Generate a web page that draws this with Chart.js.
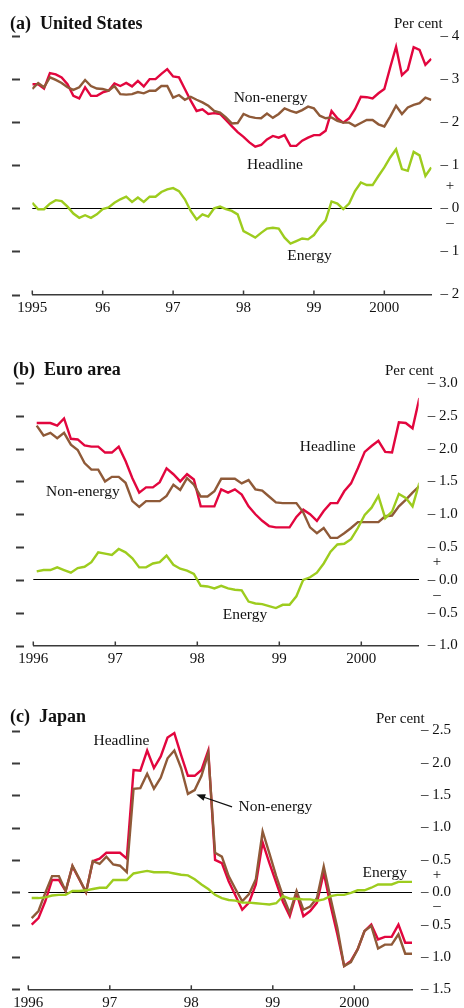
<!DOCTYPE html>
<html>
<head>
<meta charset="utf-8">
<script src="https://cdn.jsdelivr.net/npm/chart.js@4.4.1/dist/chart.umd.min.js"></script>
<style>
  html, body { margin: 0; padding: 0; background: #fff; }
  canvas { position: absolute; left: 0; }
</style>
</head>
<body>
<canvas id="chartA" width="464" height="336" style="top:0px"></canvas>
<canvas id="chartB" width="464" height="336" style="top:336px"></canvas>
<canvas id="chartC" width="464" height="336" style="top:672px"></canvas>
<script>
// ---- data (monthly, per cent) ----
const usStartYear = 1995;
const usHeadline = [2.88,2.88,2.78,3.14,3.11,3.04,2.88,2.61,2.55,2.81,
  2.61,2.61,2.69,2.73,2.90,2.84,2.91,2.83,2.96,2.83,
  3.00,3.00,3.12,3.23,3.06,3.04,2.77,2.50,2.26,2.30,
  2.19,2.21,2.19,2.05,1.91,1.77,1.66,1.53,1.43,1.47,
  1.60,1.68,1.64,1.70,1.45,1.45,1.57,1.64,1.70,1.70,
  1.80,2.26,2.09,1.99,2.09,2.30,2.59,2.58,2.55,2.67,
  2.77,3.27,3.75,3.09,3.22,3.74,3.68,3.33,3.47];
const usNonEnergy = [2.77,2.91,2.81,3.04,2.98,2.91,2.81,2.75,2.81,2.98,
  2.84,2.78,2.77,2.73,2.84,2.65,2.64,2.65,2.70,2.67,
  2.73,2.73,2.84,2.84,2.57,2.63,2.52,2.59,2.52,2.46,
  2.38,2.26,2.22,2.11,1.97,1.98,2.19,2.13,2.10,2.09,
  2.20,2.10,2.19,2.32,2.26,2.22,2.28,2.36,2.32,2.15,
  2.09,2.11,2.03,1.99,1.99,1.91,1.98,2.05,2.05,1.95,
  1.90,2.13,2.38,2.19,2.34,2.40,2.44,2.57,2.52];
const usEnergy = [0.13,-0.02,-0.02,0.11,0.19,0.17,0.04,-0.12,-0.22,-0.16,
  -0.22,-0.14,-0.02,0.02,0.13,0.21,0.27,0.15,0.25,0.15,
  0.27,0.27,0.38,0.44,0.47,0.40,0.21,-0.06,-0.26,-0.14,
  -0.19,0.00,0.04,-0.02,-0.06,-0.14,-0.53,-0.60,-0.68,-0.57,
  -0.47,-0.45,-0.47,-0.68,-0.82,-0.76,-0.70,-0.72,-0.62,-0.43,
  -0.28,0.16,0.11,-0.02,0.11,0.40,0.60,0.54,0.54,0.75,
  0.95,1.18,1.37,0.91,0.87,1.31,1.23,0.75,0.95];

const euroStartYear = 1996;
const euroHeadline = [2.39,2.39,2.39,2.35,2.46,2.15,2.14,2.05,2.03,2.03,
  1.94,1.94,2.03,1.81,1.55,1.33,1.41,1.41,1.49,1.70,
  1.61,1.50,1.61,1.53,1.12,1.12,1.12,1.38,1.33,1.38,
  1.30,1.12,1.00,0.90,0.82,0.80,0.80,0.80,0.96,1.07,
  1.00,0.90,1.05,1.17,1.17,1.35,1.47,1.70,1.95,2.04,
  2.12,1.95,1.94,2.40,2.39,2.31,2.77];
const euroNonEnergy = [2.35,2.20,2.24,2.16,2.24,2.06,1.98,1.78,1.68,1.68,
  1.50,1.57,1.57,1.48,1.20,1.11,1.20,1.20,1.20,1.28,
  1.45,1.37,1.55,1.45,1.27,1.27,1.35,1.54,1.54,1.54,
  1.47,1.52,1.38,1.36,1.27,1.18,1.17,1.17,1.17,1.03,
  0.80,0.71,0.79,0.64,0.64,0.71,0.79,0.88,0.88,0.88,
  0.88,0.97,0.98,1.12,1.22,1.33,1.43];
const euroEnergy = [0.13,0.15,0.15,0.19,0.15,0.11,0.18,0.20,0.27,0.42,
  0.40,0.38,0.47,0.42,0.33,0.19,0.19,0.25,0.27,0.37,
  0.23,0.17,0.14,0.09,-0.09,-0.10,-0.13,-0.09,-0.13,-0.15,
  -0.16,-0.33,-0.36,-0.37,-0.40,-0.43,-0.38,-0.38,-0.25,0.00,
  0.04,0.11,0.25,0.43,0.54,0.55,0.62,0.79,0.99,1.10,
  1.28,0.94,1.04,1.31,1.25,1.12,1.48];

const japanStartYear = 1996;
const japanHeadline = [-0.50,-0.40,-0.14,0.19,0.19,0.02,0.40,0.20,0.00,0.48,
  0.52,0.61,0.61,0.61,0.52,1.89,1.88,2.19,1.92,2.10,
  2.39,2.46,2.12,1.80,1.80,1.89,2.19,0.50,0.45,0.17,
  -0.05,-0.27,-0.16,0.12,0.77,0.45,0.15,-0.15,-0.37,-0.01,
  -0.37,-0.29,-0.16,0.30,-0.20,-0.65,-1.14,-1.06,-0.88,-0.60,
  -0.50,-0.73,-0.69,-0.69,-0.50,-0.78,-0.78];
const japanNonEnergy = [-0.40,-0.29,-0.01,0.25,0.25,0.02,0.41,0.21,0.00,0.48,
  0.44,0.55,0.43,0.41,0.31,1.60,1.61,1.83,1.60,1.77,
  2.07,2.19,1.92,1.52,1.58,1.80,2.15,0.61,0.55,0.25,
  0.05,-0.14,-0.03,0.20,0.94,0.60,0.25,-0.06,-0.32,0.02,
  -0.27,-0.22,-0.09,0.40,-0.09,-0.55,-1.14,-1.08,-0.88,-0.60,
  -0.52,-0.87,-0.81,-0.81,-0.65,-0.95,-0.95];
const japanEnergy = [-0.09,-0.09,-0.08,-0.05,-0.04,-0.04,0.02,0.02,0.03,0.05,
  0.07,0.07,0.19,0.19,0.19,0.29,0.31,0.33,0.31,0.31,
  0.31,0.29,0.27,0.26,0.20,0.12,0.05,-0.04,-0.09,-0.12,
  -0.13,-0.16,-0.16,-0.17,-0.18,-0.19,-0.17,-0.06,-0.10,-0.10,
  -0.11,-0.11,-0.13,-0.11,-0.06,-0.04,-0.04,-0.01,0.03,0.03,
  0.07,0.12,0.12,0.12,0.16,0.16,0.16];

// tick labels
const usYearLabels = ['1995', '96', '97', '98', '99', '2000'];
const otherYearLabels = ['1996', '97', '98', '99', '2000'];

// colours
const RED = '#e2063e';
const BROWN = '#8f5a38';
const GREEN = '#9dcc1e';
const AXIS = '#3a3a3a';
const SERIF = "'Liberation Serif', 'Times New Roman', serif";

// turn a monthly series into {x, y} points
function toPoints(values, startYear, offset) {
  return values.map((v, i) => ({ x: startYear + (i + offset) / 12, y: v }));
}

// decorations: left dashes, inward year ticks, texts, arrow
const decor = {
  id: 'decor',
  afterDraw(chart, args, o) {
    const { ctx, chartArea: area } = chart;
    const xs = chart.scales.x, ys = chart.scales.y;
    ctx.save();
    ctx.strokeStyle = AXIS;
    ctx.lineWidth = 2;
    ys.ticks.forEach(t => {
      const py = Math.round(ys.getPixelForValue(t.value)) + 0.5;
      ctx.beginPath();
      ctx.moveTo(o.dashX, py);
      ctx.lineTo(o.dashX + 8, py);
      ctx.stroke();
    });
    ctx.lineWidth = 1.5;
    xs.ticks.forEach(t => {
      const px = xs.getPixelForValue(t.value);
      ctx.beginPath();
      ctx.moveTo(px, area.bottom);
      ctx.lineTo(px, area.bottom - 4);
      ctx.stroke();
    });

    ctx.fillStyle = '#111';
    ctx.textBaseline = 'alphabetic';
    ctx.textAlign = 'left';
    ctx.font = 'bold 18px ' + SERIF;
    ctx.fillText(o.title, o.titleX, o.titleY);
    ctx.font = '15px ' + SERIF;
    ctx.fillText('Per cent', o.perCentX, o.perCentY);

    // plus / minus around zero
    const zero = ys.getPixelForValue(0);
    ctx.textAlign = 'center';
    ctx.textBaseline = 'middle';
    ctx.fillText('+', o.signX, zero + o.plusDy);
    ctx.fillText('\u2013', o.signX, zero + o.minusDy);

    // series labels placed in data units
    ctx.font = '15.5px ' + SERIF;
    ctx.textAlign = 'left';
    ctx.textBaseline = 'alphabetic';
    o.labels.forEach(l => {
      ctx.fillText(l.text, xs.getPixelForValue(l.x), ys.getPixelForValue(l.y));
    });

    if (o.arrow) {
      const x1 = xs.getPixelForValue(o.arrow.fromX), y1 = ys.getPixelForValue(o.arrow.fromY);
      const x2 = xs.getPixelForValue(o.arrow.toX), y2 = ys.getPixelForValue(o.arrow.toY);
      const ang = Math.atan2(y2 - y1, x2 - x1);
      ctx.strokeStyle = '#111';
      ctx.lineWidth = 1.3;
      ctx.beginPath();
      ctx.moveTo(x1, y1);
      ctx.lineTo(x2 - 6 * Math.cos(ang), y2 - 6 * Math.sin(ang));
      ctx.stroke();
      ctx.beginPath();
      ctx.moveTo(x2, y2);
      ctx.lineTo(x2 - 9 * Math.cos(ang) + 3.5 * Math.sin(ang), y2 - 9 * Math.sin(ang) - 3.5 * Math.cos(ang));
      ctx.lineTo(x2 - 9 * Math.cos(ang) - 3.5 * Math.sin(ang), y2 - 9 * Math.sin(ang) + 3.5 * Math.cos(ang));
      ctx.closePath();
      ctx.fill();
    }
    ctx.restore();
  }
};

function makePanel(p) {
  const ds = (label, data, color, order) => ({
    label, data: toPoints(data, p.startYear, p.offset),
    borderColor: color, borderWidth: 2.4, pointRadius: 0,
    tension: 0, fill: false, order
  });
  return new Chart(document.getElementById(p.id), {
    type: 'line',
    data: {
      datasets: [
        ds('Energy', p.energy, GREEN, 0),
        ds('Non-energy', p.nonEnergy, BROWN, 1),
        ds('Headline', p.headline, RED, 2)
      ]
    },
    options: {
      responsive: false,
      animation: false,
      devicePixelRatio: 1,
      layout: { padding: { top: p.top, left: p.left, right: 0, bottom: 0 } },
      plugins: {
        legend: { display: false },
        tooltip: { enabled: false },
        decor: p.decor
      },
      scales: {
        x: {
          type: 'linear',
          position: 'bottom',
          min: p.startYear,
          max: p.xMax,
          afterFit: s => { s.height = 336 - p.bottom; },
          afterBuildTicks: s => { s.ticks = p.yearLabels.map((_, i) => ({ value: p.startYear + i })); },
          ticks: {
            padding: 5,
            maxRotation: 0,
            autoSkip: false,
            color: '#111',
            font: { family: SERIF, size: 15 },
            callback: (v, i) => p.yearLabels[i]
          },
          grid: { display: false, drawTicks: false },
          border: { display: true, color: AXIS, width: 1.5 }
        },
        y: {
          type: 'linear',
          position: 'right',
          min: p.yMin,
          max: p.yMax,
          afterFit: s => { s.width = 464 - p.right; },
          ticks: {
            stepSize: p.yStep,
            padding: 9,
            color: '#111',
            font: { family: SERIF, size: 15 },
            callback: v => '\u2013 ' + Math.abs(v).toFixed(p.decimals)
          },
          grid: {
            drawTicks: false,
            lineWidth: 1,
            color: c => (c.tick && Math.abs(c.tick.value) < 1e-9) ? '#000' : 'rgba(0,0,0,0)'
          },
          border: { display: false }
        }
      }
    },
    plugins: [decor]
  });
}

makePanel({
  id: 'chartA', startYear: usStartYear, offset: 0, xMax: 2000.670,
  headline: usHeadline, nonEnergy: usNonEnergy, energy: usEnergy, yearLabels: usYearLabels,
  top: 36, bottom: 294.5, left: 32.3, right: 431.5,
  yMin: -2, yMax: 4, yStep: 1, decimals: 0,
  decor: {
    dashX: 12, title: '(a)  United States', titleX: 10, titleY: 29,
    perCentX: 394, perCentY: 28, signX: 450, plusDy: -22, minusDy: 15,
    labels: [
      { text: 'Non-energy', x: 1997.86, y: 2.47 },
      { text: 'Headline', x: 1998.05, y: 0.91 },
      { text: 'Energy', x: 1998.62, y: -1.20 }
    ]
  }
});

makePanel({
  id: 'chartB', startYear: euroStartYear, offset: 0.5, xMax: 2000.70,
  headline: euroHeadline, nonEnergy: euroNonEnergy, energy: euroEnergy, yearLabels: otherYearLabels,
  top: 47, bottom: 309.5, left: 33.3, right: 418.7,
  yMin: -1, yMax: 3, yStep: 0.5, decimals: 1,
  decor: {
    dashX: 16, title: '(b)  Euro area', titleX: 13, titleY: 39,
    perCentX: 385, perCentY: 39, signX: 437, plusDy: -18, minusDy: 15,
    labels: [
      { text: 'Headline', x: 1999.25, y: 1.965 },
      { text: 'Non-energy', x: 1996.155, y: 1.28 },
      { text: 'Energy', x: 1998.31, y: -0.60 }
    ]
  }
});

makePanel({
  id: 'chartC', startYear: japanStartYear, offset: 0.5, xMax: 2000.708,
  headline: japanHeadline, nonEnergy: japanNonEnergy, energy: japanEnergy, yearLabels: otherYearLabels,
  top: 58.5, bottom: 317.3, left: 28.3, right: 412,
  yMin: -1.5, yMax: 2.5, yStep: 0.5, decimals: 1,
  decor: {
    dashX: 12, title: '(c)  Japan', titleX: 10, titleY: 50,
    perCentX: 376, perCentY: 51, signX: 437, plusDy: -17, minusDy: 14,
    labels: [
      { text: 'Headline', x: 1996.80, y: 2.28 },
      { text: 'Non-energy', x: 1998.58, y: 1.25 },
      { text: 'Energy', x: 2000.10, y: 0.24 }
    ],
    arrow: { fromX: 1998.50, fromY: 1.32, toX: 1998.06, toY: 1.51 }
  }
});
</script>
</body>
</html>
